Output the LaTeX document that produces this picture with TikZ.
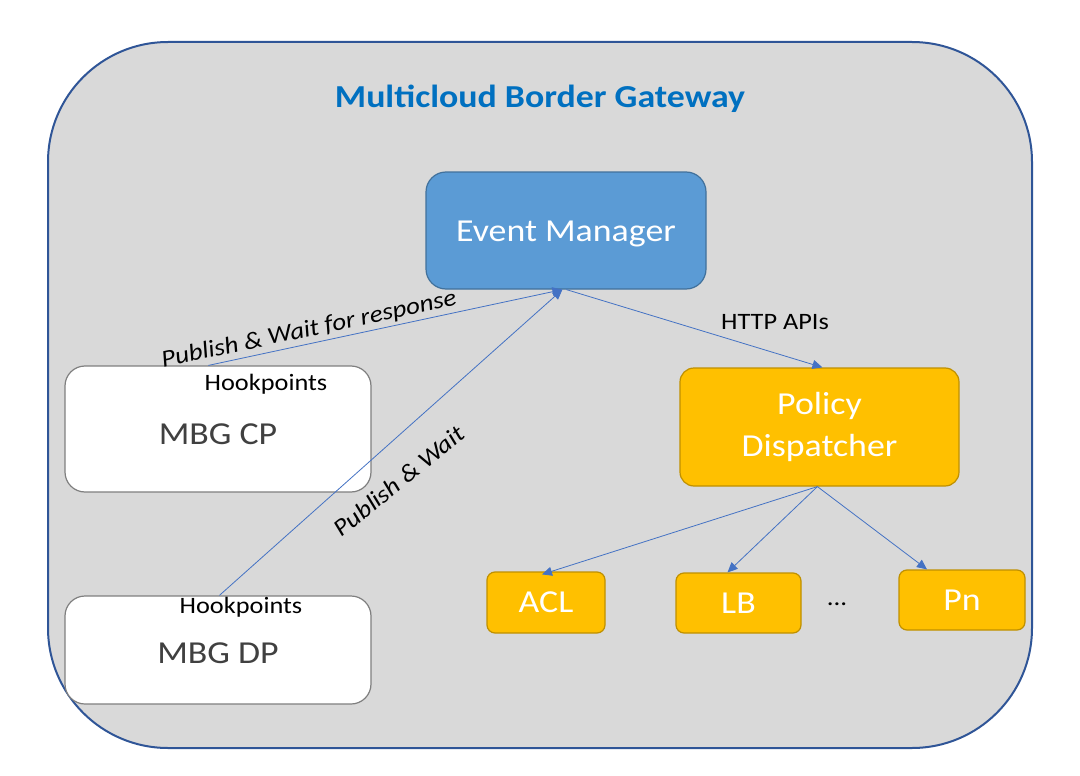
\documentclass[tikz,border=0pt]{standalone}
\usepackage{fontspec}
\setmainfont{Carlito}[FakeStretch=1.12]
\usetikzlibrary{arrows.meta,calc}
\definecolor{outerfill}{HTML}{D9D9D9}
\definecolor{outerline}{HTML}{2F5597}
\definecolor{emfill}{HTML}{5B9BD5}
\definecolor{emline}{HTML}{41719C}
\definecolor{yfill}{HTML}{FFC000}
\definecolor{yline}{HTML}{BF9000}
\definecolor{boxline}{HTML}{7F7F7F}
\definecolor{darktext}{HTML}{404040}
\definecolor{titleblue}{HTML}{0070C0}
\definecolor{arrowblue}{HTML}{4472C4}
\tikzset{
  bluebox/.style={draw=emline, line width=1.2pt, fill=emfill, rounded corners=20pt, text=white, font=\fontsize{32}{36}\selectfont, align=center, inner sep=0pt},
  yellowbox/.style={draw=yline, line width=1.2pt, fill=yfill, rounded corners=14pt, text=white, font=\fontsize{32}{42}\selectfont, align=center, inner sep=0pt},
  whitebox/.style={draw=boxline, line width=1.2pt, fill=white, rounded corners=20pt, inner sep=0pt},
  hooktext/.style={font=\fontsize{23.5}{26}\selectfont, text=black, inner sep=0pt},
  mbgtext/.style={font=\fontsize{32}{36}\selectfont, text=darktext, inner sep=0pt},
  conn/.style={draw=arrowblue, line width=0.8pt, -{Triangle[length=10pt,width=9pt]}},
  edgelabel/.style={font=\fontsize{24}{28}\selectfont\itshape, text=black, inner sep=0pt},
}
\begin{document}
\begin{tikzpicture}[x=1pt,y=-1pt]
\useasboundingbox (0,0) rectangle (1080,776);
\node[draw=outerline, line width=2pt, fill=outerfill, rounded corners=120pt, minimum width=984pt, minimum height=706pt, inner sep=0pt] (outer) at (540,395) {};
\node[font=\fontsize{32}{36}\selectfont\bfseries, text=titleblue] (title) at (540,99) {Multicloud Border Gateway};

\node[bluebox, minimum width=280pt, minimum height=117pt, text height=22pt, text depth=0pt] (em) at (566,230.5) {Event Manager};
\node[yellowbox, minimum width=279pt, minimum height=118pt] (pd) at (819.5,427) {Policy\\Dispatcher};

\node[whitebox, minimum width=306pt, minimum height=126pt] (cp) at (218,429) {};
\node[hooktext] (cphook) at (266,384) {Hookpoints};
\node[mbgtext] (cptext) at (218,434) {MBG CP};

\node[whitebox, minimum width=306pt, minimum height=108pt] (dp) at (218,650) {};
\node[hooktext] (dphook) at (241,607) {Hookpoints};
\node[mbgtext] (dptext) at (218,653) {MBG DP};

\node[yellowbox, rounded corners=8pt, minimum width=118pt, minimum height=61pt] (acl) at (546,602.5) {ACL};
\node[yellowbox, rounded corners=8pt, minimum width=125pt, minimum height=60pt] (lb) at (738.5,603) {LB};
\node[yellowbox, rounded corners=8pt, minimum width=126pt, minimum height=60pt] (pn) at (962,600) {Pn};
\node[font=\fontsize{24}{28}\selectfont, inner sep=0pt] (dots) at (837,604) {...};

\coordinate (emin) at ([xshift=137pt]em.south west);
\coordinate (emout) at ([xshift=141pt]em.south west);
\coordinate (cpout) at ([xshift=144pt]cp.north west);
\coordinate (dpout) at ([xshift=155pt]dp.north west);
\coordinate (pdin) at ([xshift=143pt]pd.north west);
\coordinate (pdout) at ([xshift=138pt]pd.south west);

\draw[conn] (cpout) -- (emin);
\draw[conn] (dpout) -- (emin);
\draw[conn] (emout) -- (pdin);
\draw[conn] (pdout) -- ([xshift=-4pt,yshift=-3pt]acl.north);
\draw[conn] (pdout) -- ([xshift=-11pt,yshift=0pt]lb.north);
\draw[conn] (pdout) -- ([xshift=-35pt,yshift=0pt]pn.north);

\node[edgelabel, rotate=12] (lbl1) at (309,330) {Publish \& Wait for response};
\node[edgelabel, rotate=39] (lbl2) at (399,481) {Publish \& Wait};
\node[font=\fontsize{23.5}{26}\selectfont, inner sep=0pt] (lbl3) at (775,322) {HTTP APIs};
\end{tikzpicture}
\end{document}
